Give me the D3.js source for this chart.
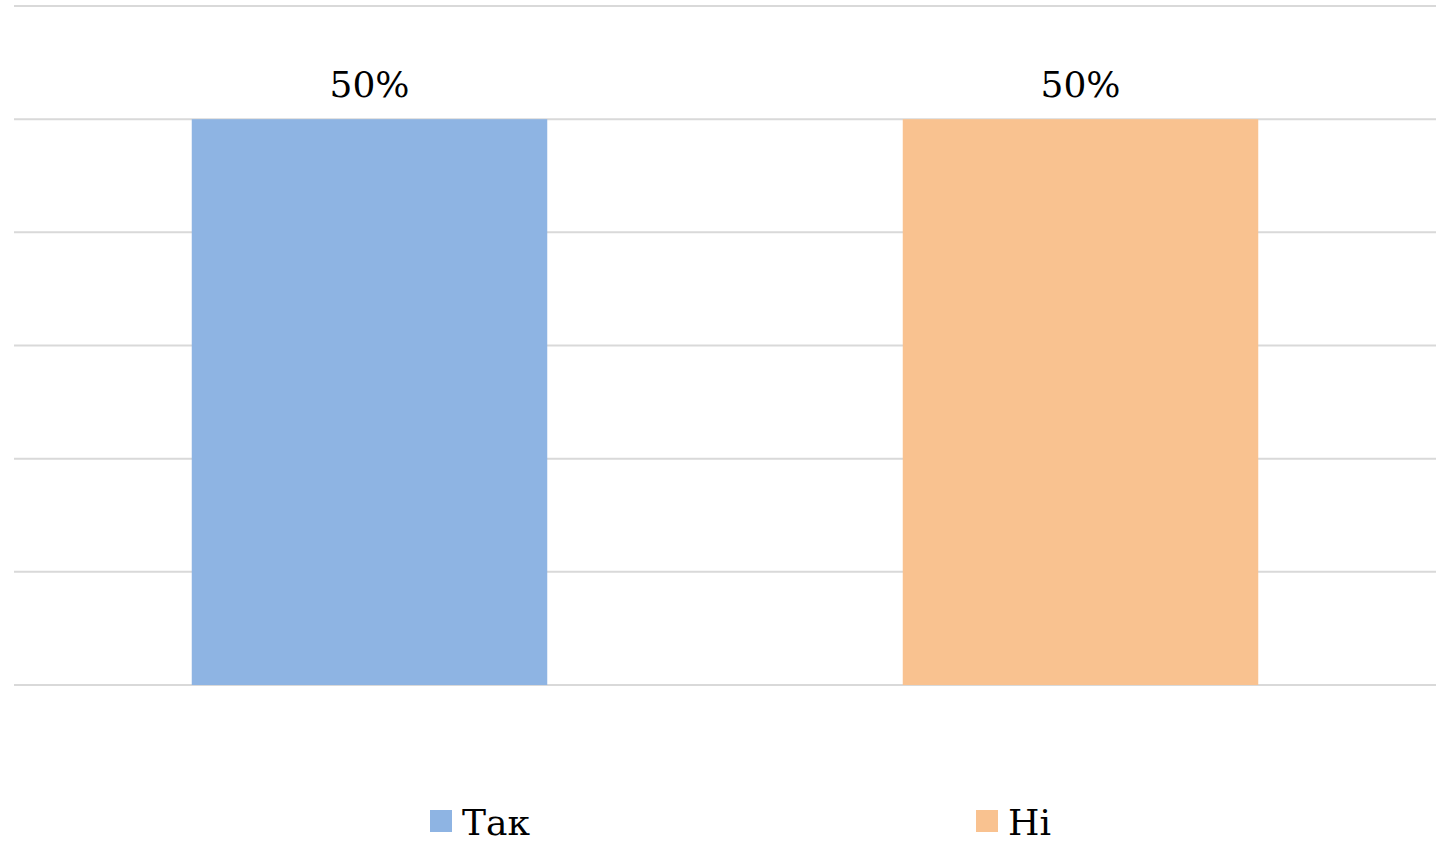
<!DOCTYPE html>
<html>
<head>
<meta charset="utf-8">
<script src="https://cdn.jsdelivr.net/npm/d3@7"></script>
<style>
  body { margin: 0; background: #fff; }
</style>
</head>
<body>
<div id="chart"></div>
<script>
// data
const categories = ["Так", "Ні"];
const values = [50, 50];
const colors = ["#8eb4e3", "#f9c290"];
const yTicks = [0, 10, 20, 30, 40, 50, 60];

const fontFamily = "'DejaVu Serif', 'Liberation Serif', serif";

const W = 1445, H = 844;
const margin = { top: 6, right: 9, bottom: 159, left: 14 },
    width = W - margin.left - margin.right,
    height = H - margin.top - margin.bottom;

const svg = d3.select("#chart")
    .append("svg")
    .attr("width", W)
    .attr("height", H)
    .append("g")
    .attr("transform", `translate(${margin.left},${margin.top})`);

const x = d3.scaleBand()
    .domain(categories)
    .range([0, width])
    .paddingInner(0.5)
    .paddingOuter(0.25);

const y = d3.scaleLinear()
    .domain([0, 60])
    .range([height, 0]);

// gridlines
svg.append("g")
    .selectAll("line")
    .data(yTicks)
    .enter()
    .append("line")
    .attr("x1", 0)
    .attr("x2", width)
    .attr("y1", (d) => y(d))
    .attr("y2", (d) => y(d))
    .attr("stroke", "#d9d9d9")
    .attr("stroke-width", 2);

// bars
svg.selectAll(".bar")
    .data(categories)
    .enter()
    .append("rect")
    .attr("class", "bar")
    .attr("x", (d) => x(d))
    .attr("y", (d, i) => y(values[i]))
    .attr("width", x.bandwidth())
    .attr("height", (d, i) => y(0) - y(values[i]))
    .attr("fill", (d, i) => colors[i]);

// value labels
svg.selectAll(".label")
    .data(categories)
    .enter()
    .append("text")
    .attr("class", "label")
    .attr("x", (d) => x(d) + x.bandwidth() / 2)
    .attr("y", (d, i) => y(values[i]) - 22)
    .attr("text-anchor", "middle")
    .attr("font-family", fontFamily)
    .attr("font-size", 36)
    .attr("fill", "#000")
    .text((d, i) => values[i] + "%");

// legend
const legendX = [430, 976];
const legend = d3.select("svg").append("g");
categories.forEach((c, i) => {
    legend.append("rect")
        .attr("x", legendX[i])
        .attr("y", 810)
        .attr("width", 22)
        .attr("height", 22)
        .attr("fill", colors[i]);
    legend.append("text")
        .attr("x", legendX[i] + 32)
        .attr("y", 835)
        .attr("font-family", fontFamily)
        .attr("font-size", 36)
        .attr("fill", "#000")
        .text(c);
});
</script>
</body>
</html>
